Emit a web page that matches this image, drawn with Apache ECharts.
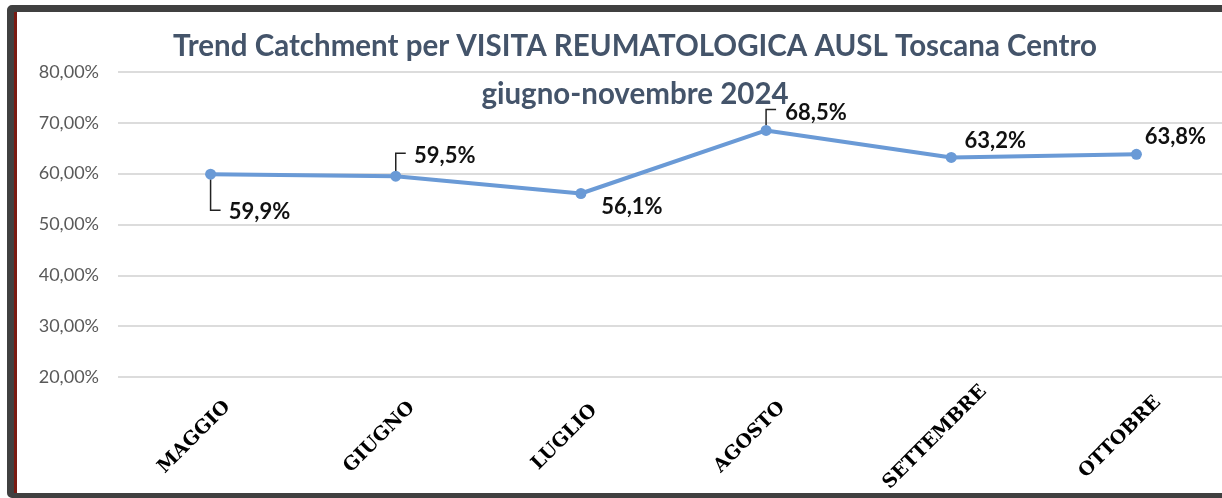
<!DOCTYPE html>
<html>
<head>
<meta charset="utf-8">
<script src="https://cdn.jsdelivr.net/npm/echarts@6/dist/echarts.min.js"></script>
<style>
html,body{margin:0;padding:0;background:#fff;overflow:hidden;}
#frame{position:absolute;left:7px;top:5px;width:1240px;height:481px;border:7px solid #404040;border-bottom-width:5px;border-radius:5px;}
#stripe{position:absolute;left:14px;top:12px;width:3px;height:481px;background:#7a1a12;}
#chart{position:absolute;left:0;top:0;width:1222px;height:498px;}
</style>
</head>
<body>
<div id="frame"></div>
<div id="stripe"></div>
<div id="chart"></div>
<script>
// DATA
const months=['MAGGIO','GIUGNO','LUGLIO','AGOSTO','SETTEMBRE','OTTOBRE'];
const catchment=[59.9,59.5,56.1,68.5,63.2,63.8];
const yTicks=[20,30,40,50,60,70,80];

// label placement (px) and leader direction per point: 1 down, -1 up, 0 none
const labelOffsets=[[49,38],[49,-20],[51,13],[50,-18],[44,-16],[39,-17]];
const leaderDir=[1,-1,0,-1,0,0];
const leaderLen=[36,23,0,21,0,0];

const fmtPct=v=>v.toFixed(1).replace('.',',')+'%';

const chart=echarts.init(document.getElementById('chart'),null,{renderer:'canvas'});
chart.setOption({
  backgroundColor:'transparent',
  animation:false,
  title:{
    text:'Trend Catchment per VISITA REUMATOLOGICA AUSL Toscana Centro\ngiugno-novembre 2024',
    left:630,top:17,textAlign:'center',
    textStyle:{fontFamily:'Lato',fontWeight:'bold',fontSize:29.5,lineHeight:48,color:'#44546a'}
  },
  grid:{left:118,width:1111,top:72,bottom:121,outerBoundsMode:'none'},
  xAxis:{
    type:'category',
    data:months,
    boundaryGap:true,
    axisLine:{show:false},
    axisTick:{show:false},
    axisLabel:{
      rotate:45,margin:44,align:'center',verticalAlign:'middle',
      padding:[0,46,0,0],
      fontFamily:'DejaVu Serif',fontWeight:'bold',fontSize:19,color:'#000'
    }
  },
  yAxis:{
    type:'value',
    min:yTicks[0],max:yTicks[yTicks.length-1],interval:10,
    axisLine:{show:false},
    axisTick:{show:false},
    axisLabel:{
      margin:19,fontFamily:'Lato',fontSize:18,color:'#595959',
      formatter:v=>v.toFixed(2).replace('.',',')+'%'
    },
    splitLine:{lineStyle:{color:'#dcdcdc',width:2}}
  },
  series:[
    {
      type:'line',
      data:catchment.map((v,i)=>({
        value:v,
        label:{offset:labelOffsets[i]}
      })),
      symbol:'circle',symbolSize:11,
      lineStyle:{color:'#6a9ad6',width:4},
      itemStyle:{color:'#6a9ad6'},
      label:{
        show:true,position:'inside',
        fontFamily:'Lato',fontWeight:'bold',fontSize:22,color:'#111',
        formatter:p=>fmtPct(p.value)
      },
      z:3
    },
    {
      type:'custom',
      data:catchment.map((v,i)=>[i,v]),
      renderItem:function(params,api){
        const d=leaderDir[params.dataIndex];
        if(!d)return null;
        const p=api.coord([api.value(0),api.value(1)]);
        const len=leaderLen[params.dataIndex];
        return {
          type:'polyline',
          shape:{points:[[p[0],p[1]+d*5],[p[0],p[1]+d*len],[p[0]+10,p[1]+d*len]]},
          style:{stroke:'#222',lineWidth:1.5,fill:null}
        };
      },
      z:2,silent:true
    }
  ]
});
</script>
</body>
</html>
